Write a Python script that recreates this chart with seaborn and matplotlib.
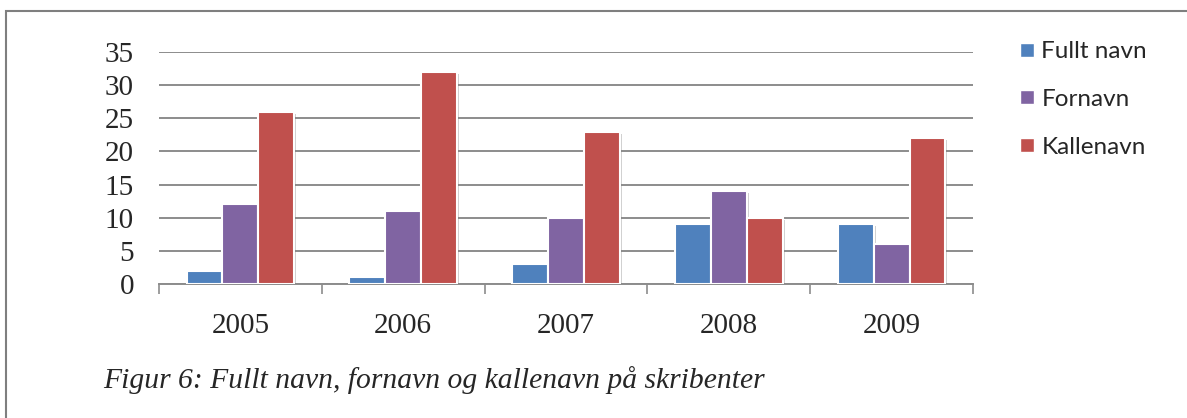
"""Grouped bar chart: full name, first name and nickname of writers per year."""

import matplotlib.pyplot as plt
import matplotlib.patheffects as pe
from matplotlib.patches import Rectangle
import pandas as pd
import seaborn as sns

YEARS = ["2005", "2006", "2007", "2008", "2009"]
SERIES = ["Fullt navn", "Fornavn", "Kallenavn"]
FULLT_NAVN = [2, 1, 3, 9, 9]
FORNAVN = [12, 11, 10, 14, 6]
KALLENAVN = [26, 32, 23, 10, 22]
COLORS = ["#4F81BD", "#8064A2", "#C0504D"]
CAPTION = "Figur 6: Fullt navn, fornavn og kallenavn på skribenter"

W, H = 1187, 418
GRID = "#8C8C8C"


def main() -> None:
    sns.set_theme(style="white")
    plt.rcParams["font.family"] = ["Liberation Serif", "DejaVu Serif"]

    data = pd.DataFrame(
        {
            "year": YEARS * 3,
            "series": [s for s in SERIES for _ in YEARS],
            "value": FULLT_NAVN + FORNAVN + KALLENAVN,
        }
    )

    fig = plt.figure(figsize=(W / 100, H / 100), dpi=100)
    ax = fig.add_axes([159 / W, 1 - 284 / H, (973 - 159) / W, (284 - 52) / H])

    sns.barplot(
        data=data, x="year", y="value", hue="series", hue_order=SERIES,
        palette=COLORS, width=0.66, edgecolor="white", linewidth=1.5,
        saturation=1, legend=False, ax=ax, zorder=3,
    )
    shadow = [pe.SimplePatchShadow(offset=(1.5, -1.5), shadow_rgbFace="#777777", alpha=0.35), pe.Normal()]
    for bar in ax.patches:
        bar.set_path_effects(shadow)

    ax.set_ylim(0, 35)
    ax.set_yticks(range(0, 36, 5))
    ax.set_xlim(-0.5, len(YEARS) - 0.5)
    ax.yaxis.grid(True, color=GRID, linewidth=1.4)
    ax.set_axisbelow(True)
    for side in ("left", "right", "top"):
        ax.spines[side].set_visible(False)
    ax.spines["bottom"].set_color(GRID)
    ax.spines["bottom"].set_linewidth(1.4)

    # category separators below the axis, labels centred under each group
    ax.set_xticks([i - 0.5 for i in range(len(YEARS) + 1)], minor=True)
    ax.tick_params(axis="x", which="minor", length=7, width=1.2, color=GRID, bottom=True)
    ax.tick_params(axis="x", which="major", length=0, pad=21, labelsize=21)
    ax.tick_params(axis="y", length=0, pad=18, labelsize=21)
    ax.set_xlabel("")
    ax.set_ylabel("")

    handles = [plt.Line2D([], [], marker="s", linestyle="", markersize=9.4,
                          markerfacecolor=c, markeredgecolor="white") for c in COLORS]
    fig.legend(
        handles, SERIES, loc="upper left", bbox_to_anchor=(1005 / W, 1 - 29 / H),
        frameon=False, borderpad=0, handlelength=0.8, handletextpad=0.2, labelspacing=1.1,
        prop={"family": ["Lato", "DejaVu Sans"], "size": 17.5},
    )

    fig.text(103 / W, 1 - 380 / H, CAPTION, ha="left", va="center",
             fontsize=21.3, style="italic", family=["Liberation Serif", "DejaVu Serif"])

    # outer frame of the figure box (left and top edges visible)
    fig.patches.append(Rectangle((6 / W, -0.1), 1.2, 1 - 11 / H + 0.1, transform=fig.transFigure,
                                 fill=False, edgecolor="#7F7F7F", linewidth=1.5))

    fig.savefig("out.png", dpi=100)
    plt.close(fig)


if __name__ == "__main__":
    main()
